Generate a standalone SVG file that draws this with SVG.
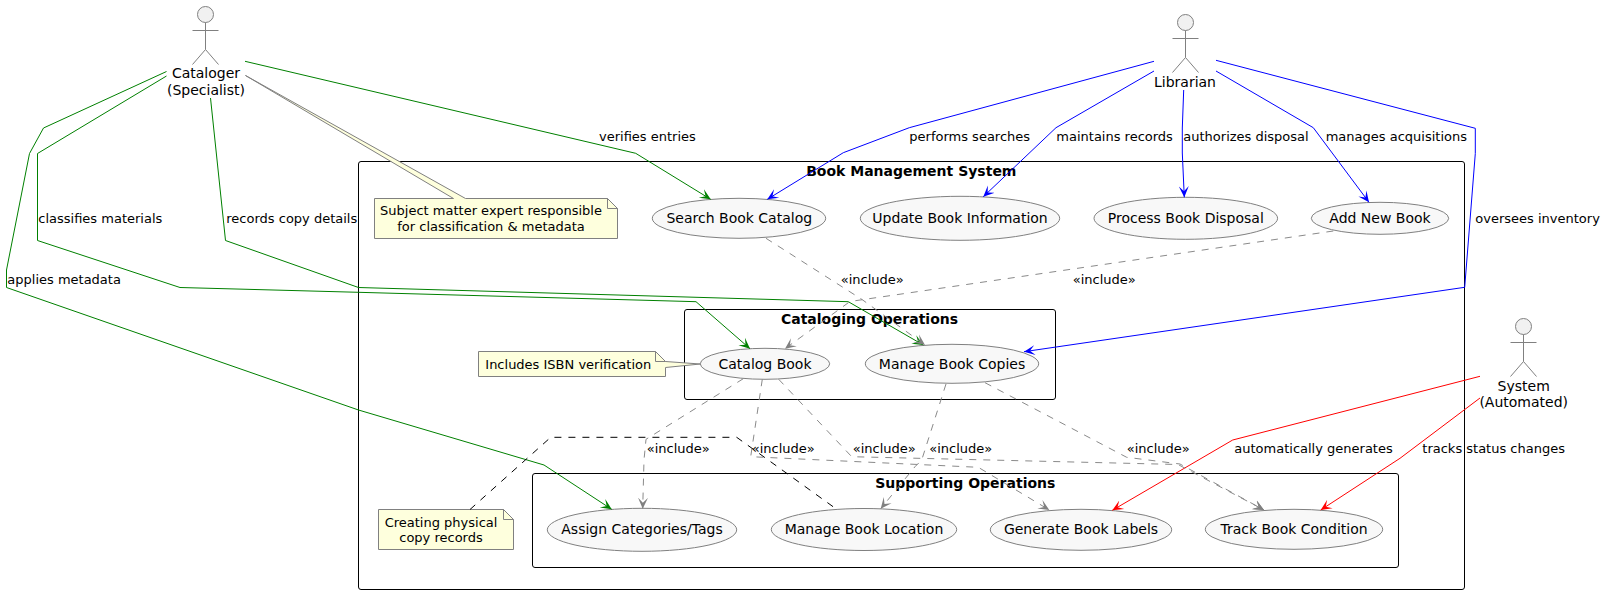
<svg xmlns="http://www.w3.org/2000/svg" width="1606" height="596" viewBox="0 0 1606 596">
<style>
text{font-family:"DejaVu Sans",sans-serif;fill:#000}
.n{font-size:14px;text-anchor:middle}
.t{font-size:14px;font-weight:bold;text-anchor:middle}
.l{font-size:13px}
.nt{font-size:13px;text-anchor:middle}
.box{fill:none;stroke:#000;stroke-width:1}
.uc{fill:#F8F8F8;stroke:#808080;stroke-width:1}
.head{fill:#F1F1F1;stroke:#808080;stroke-width:1}
.fig{fill:none;stroke:#808080;stroke-width:1}
.note{fill:#FEFFDD;stroke:#808080;stroke-width:1}
.c{fill:none;stroke-width:1}
.g{stroke:#008000;marker-end:url(#ag)}
.b{stroke:#0000FF;marker-end:url(#ab)}
.r{stroke:#FF0000;marker-end:url(#ar)}
.i{stroke:#8A8A8A;stroke-dasharray:7 7;marker-end:url(#ai)}
.k{stroke:#000;stroke-dasharray:7 7}
</style>
<defs>
<marker id="ag" markerUnits="userSpaceOnUse" markerWidth="13" markerHeight="13" refX="11" refY="6.5" orient="auto"><path d="M11,6.5 L0,1.5 L5,6.5 L0,11.5 Z" fill="#008000"/></marker>
<marker id="ab" markerUnits="userSpaceOnUse" markerWidth="13" markerHeight="13" refX="11" refY="6.5" orient="auto"><path d="M11,6.5 L0,1.5 L5,6.5 L0,11.5 Z" fill="#0000FF"/></marker>
<marker id="ar" markerUnits="userSpaceOnUse" markerWidth="13" markerHeight="13" refX="11" refY="6.5" orient="auto"><path d="M11,6.5 L0,1.5 L5,6.5 L0,11.5 Z" fill="#FF0000"/></marker>
<marker id="ai" markerUnits="userSpaceOnUse" markerWidth="13" markerHeight="13" refX="11" refY="6.5" orient="auto"><path d="M11,6.5 L0,1.5 L5,6.5 L0,11.5 Z" fill="#808080"/></marker>
</defs>
<g id="system-book-management">
<rect class="box" x="358.5" y="161.5" width="1106" height="428" rx="2.5"/>
<text class="t" x="911.3" y="176">Book Management System</text>
</g>
<g id="system-cataloging">
<rect class="box" x="684.5" y="309.5" width="371" height="90" rx="2.5"/>
<text class="t" x="869.5" y="324">Cataloging Operations</text>
</g>
<g id="system-supporting">
<rect class="box" x="532.5" y="473.5" width="866" height="94" rx="2.5"/>
<text class="t" x="965.3" y="488.3">Supporting Operations</text>
</g>
<g id="actor-cataloger">
<circle class="head" cx="205.5" cy="14.5" r="8"/>
<path class="fig" d="M205.5,22.5V49.5M192.5,30.5H218.5M205.5,49.5L192.5,64.5M205.5,49.5L218.5,64.5"/>
<text class="n" x="206" y="78.3">Cataloger</text>
<text class="n" x="206" y="94.7">(Specialist)</text>
</g>
<g id="actor-librarian">
<circle class="head" cx="1185.5" cy="22.5" r="8"/>
<path class="fig" d="M1185.5,30.5V57.5M1172.5,38.5H1198.5M1185.5,57.5L1172.5,72.5M1185.5,57.5L1198.5,72.5"/>
<text class="n" x="1185" y="87.3">Librarian</text>
</g>
<g id="actor-system">
<circle class="head" cx="1523.5" cy="326.5" r="8"/>
<path class="fig" d="M1523.5,334.5V361.5M1510.5,342.5H1536.5M1523.5,361.5L1510.5,376.5M1523.5,361.5L1536.5,376.5"/>
<text class="n" x="1523.7" y="391">System</text>
<text class="n" x="1523.7" y="407.3">(Automated)</text>
</g>
<g id="uc-search"><ellipse class="uc" cx="739" cy="218.3" rx="86.7" ry="20"/><text class="n" x="739.3" y="223.3">Search Book Catalog</text></g>
<g id="uc-update"><ellipse class="uc" cx="960" cy="218.3" rx="99.7" ry="22"/><text class="n" x="960" y="223.3">Update Book Information</text></g>
<g id="uc-disposal"><ellipse class="uc" cx="1185.8" cy="218.3" rx="91.8" ry="21"/><text class="n" x="1185.8" y="223.3">Process Book Disposal</text></g>
<g id="uc-add"><ellipse class="uc" cx="1380" cy="218.3" rx="68.7" ry="16"/><text class="n" x="1380" y="223.3">Add New Book</text></g>
<g id="uc-catalog"><ellipse class="uc" cx="765" cy="363.8" rx="64.7" ry="15.5"/><text class="n" x="765" y="369.3">Catalog Book</text></g>
<g id="uc-copies"><ellipse class="uc" cx="952" cy="363.8" rx="86.7" ry="19.5"/><text class="n" x="952" y="369.3">Manage Book Copies</text></g>
<g id="uc-assign"><ellipse class="uc" cx="642" cy="529.8" rx="94.7" ry="21.5"/><text class="n" x="642" y="534.3">Assign Categories/Tags</text></g>
<g id="uc-location"><ellipse class="uc" cx="864" cy="529.5" rx="92.7" ry="21"/><text class="n" x="864" y="534.3">Manage Book Location</text></g>
<g id="uc-labels"><ellipse class="uc" cx="1081" cy="529.8" rx="90.7" ry="20.5"/><text class="n" x="1081" y="534.3">Generate Book Labels</text></g>
<g id="uc-condition"><ellipse class="uc" cx="1294" cy="529.3" rx="88.7" ry="20"/><text class="n" x="1294" y="534.3">Track Book Condition</text></g>
<g id="note-specialist">
<path class="note" d="M374.5,198.5H453.5L245.5,75.5L465.5,198.5H607.5L617.5,208.5V238.5H374.5Z"/>
<path class="note" d="M607.5,198.5V208.5H617.5Z"/>
<text class="nt" x="491" y="215">Subject matter expert responsible</text>
<text class="nt" x="491" y="231">for classification &amp; metadata</text>
</g>
<g id="note-isbn">
<path class="note" d="M478.5,351.5H655.5L665.5,361.5L700.3,364L665.5,367.5V376.5H478.5Z"/>
<path class="note" d="M655.5,351.5V361.5H665.5Z"/>
<text class="l" x="485.3" y="369.3">Includes ISBN verification</text>
</g>
<g id="note-physical">
<path class="note" d="M378.5,509.5H503.5L513.5,519.5V549.5H378.5Z"/>
<path class="note" d="M503.5,509.5V519.5H513.5Z"/>
<text class="nt" x="441" y="526.5">Creating physical</text>
<text class="nt" x="441" y="542.3">copy records</text>
</g>
<g id="connectors">
<path class="c g" d="M166.5,71.5L43.5,128L29.5,153.5L6.5,270V287.5L358.5,410L544,465L611.7,509.3"/>
<path class="c g" d="M166.5,76L37.5,153.5V240.5L180,287.5L358.5,292.3L696,301.7L750,348.7"/>
<path class="c g" d="M210.5,98L225.5,240.5L358.5,287.5L848.3,301.7L923.3,345"/>
<path class="c g" d="M245,61.3L635.7,153.3L710.7,199.3"/>
<path class="c b" d="M1154,61.3L909.3,127.7L843.3,152.7L767.3,199.3"/>
<path class="c b" d="M1154,71L1056,127.7L983.3,196.7"/>
<path class="c b" d="M1183.7,90L1182.3,128V153L1184.3,197.3"/>
<path class="c b" d="M1216,71L1313.3,127.7L1321,138L1369,202.3"/>
<path class="c b" d="M1216,60.3L1475.3,128.3V153.5L1464.7,287.3L1024,351.7"/>
<path class="c r" d="M1480,376.3L1232.7,440L1112.3,510.3"/>
<path class="c r" d="M1480,398L1400,458.3L1320.7,510"/>
<path class="c i" d="M766,238.3L862,299.5L925,345"/>
<path class="c i" d="M1333.3,231L850,301.5L785,348.7"/>
<path class="c i" d="M743.3,378.7L646,439.3L644,460L642.7,508.7"/>
<path class="c i" d="M762.3,379.3L750.7,456.7L978.3,467.3L1049.3,510"/>
<path class="c i" d="M778.7,379.3L851.7,456.7L1178,464.5L1264,510"/>
<path class="c i" d="M946,384L921.7,460L915,466.7L880.7,508.7"/>
<path class="c i" d="M985,382.7L1126.7,457.3L1180,464L1264,510"/>
<path class="c k" d="M470,509.5L550.7,437.3H736.7L836.7,509.3"/>
<text class="l" x="599" y="141">verifies entries</text>
<text class="l" x="909.3" y="141">performs searches</text>
<text class="l" x="1056.3" y="141">maintains records</text>
<text class="l" x="1183.3" y="141">authorizes disposal</text>
<text class="l" x="1325.7" y="141">manages acquisitions</text>
<text class="l" x="1475.3" y="223">oversees inventory</text>
<text class="l" x="38.3" y="223">classifies materials</text>
<text class="l" x="226.3" y="223">records copy details</text>
<text class="l" x="7.3" y="284">applies metadata</text>
<text class="l" x="840.7" y="284">«include»</text>
<text class="l" x="1072.7" y="284">«include»</text>
<text class="l" x="646.7" y="453.3">«include»</text>
<text class="l" x="751.7" y="453.3">«include»</text>
<text class="l" x="852.7" y="453.3">«include»</text>
<text class="l" x="929.3" y="453.3">«include»</text>
<text class="l" x="1126.7" y="453.3">«include»</text>
<text class="l" x="1234.3" y="453.3">automatically generates</text>
<text class="l" x="1422.3" y="453.3">tracks status changes</text>
</g>
</svg>
